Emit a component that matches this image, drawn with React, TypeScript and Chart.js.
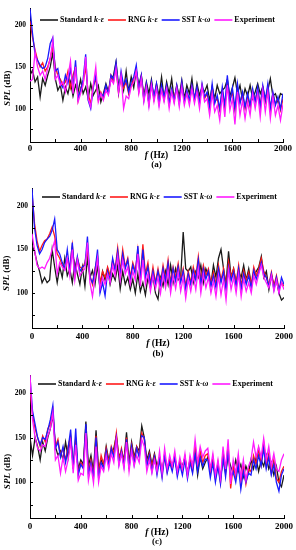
import React, { useEffect, useRef } from 'react';
import { Chart, registerables } from 'chart.js';

Chart.register(...registerables);

// Frequency grid (Hz), one sample every 20 Hz from 0 to 2000
const FREQS: number[] = Array.from({ length: 101 }, (_, i) => i * 20);

const SERIES_LABELS: { t: string; i: boolean }[][] = [
  [{ t: 'Standard ', i: false }, { t: 'k-ε', i: true }],
  [{ t: 'RNG ', i: false }, { t: 'k-ε', i: true }],
  [{ t: 'SST ', i: false }, { t: 'k-ω', i: true }],
  [{ t: 'Experiment', i: false }],
];
const COLORS = ['#1a1a1a', '#ff1a1a', '#1a1aff', '#ff1aff'];

const Y_TICKS = [75, 100, 125, 150, 175, 200];
const Y_LABELED = [100, 150, 200];
const X_TICKS = [0, 200, 400, 600, 800, 1000, 1200, 1400, 1600, 1800, 2000];
const X_LABELED = [0, 400, 800, 1200, 1600, 2000];
const CAPTIONS = ['(a)', '(b)', '(c)'];

// ---------- Panel (a) ----------
const A_STD = [
  140, 146, 132, 138, 114, 136, 128, 140, 150, 167,
  136, 122, 128, 110, 126, 118, 132, 115, 128, 120,
  135, 118, 126, 112, 130, 116, 122, 128, 108, 118,
  130, 120, 135, 140, 156, 128, 138, 122, 145, 120,
  138, 125, 146, 128, 140, 115, 132, 118, 135, 112,
  130, 115, 138, 112, 132, 118, 136, 110, 128, 115,
  134, 112, 128, 118, 136, 110, 130, 116, 125, 120,
  128, 110, 126, 112, 128, 118, 122, 125, 135, 115,
  125, 137, 118, 128, 110, 124, 115, 128, 112, 120,
  130, 118, 126, 112, 122, 136, 115, 118, 108, 118,
  116,
];
const A_RNG = [
  205, 185, 170, 158, 150, 155, 145, 150, 160, 175,
  150, 140, 135, 128, 132, 145, 125, 140, 150, 110,
  125, 130, 150, 118, 105, 128, 135, 110, 120, 112,
  125, 120, 140, 132, 150, 118, 140, 125, 132, 118,
  128, 135, 146, 120, 138, 112, 128, 106, 130, 112,
  128, 108, 125, 112, 126, 108, 122, 112, 126, 108,
  130, 110, 120, 108, 126, 112, 124, 108, 128, 112,
  118, 100, 125, 108, 112, 98, 122, 102, 132, 110,
  120, 98, 125, 108, 118, 100, 115, 102, 120, 110,
  122, 104, 125, 108, 126, 100, 118, 106, 112, 98,
  112,
];
const A_SST = [
  220, 190, 165, 158, 152, 148, 150, 160, 178, 185,
  145, 148, 130, 125, 140, 130, 148, 125, 158, 112,
  122, 135, 165, 110, 100, 125, 140, 112, 118, 115,
  128, 118, 140, 135, 155, 120, 145, 128, 135, 120,
  132, 138, 152, 122, 140, 110, 130, 105, 132, 114,
  130, 106, 128, 114, 128, 106, 124, 110, 128, 106,
  132, 108, 122, 110, 128, 112, 126, 106, 130, 114,
  120, 102, 130, 106, 116, 100, 126, 104, 140, 108,
  125, 100, 130, 106, 120, 102, 118, 104, 124, 108,
  126, 102, 128, 110, 130, 100, 120, 104, 114, 100,
  118,
];
const A_EXP = [
  133, 135, 168, 150, 140, 145, 135, 148, 160, 182,
  135, 140, 128, 132, 120, 138, 157, 118, 150, 108,
  118, 128, 162, 112, 102, 128, 150, 108, 118, 110,
  122, 116, 135, 130, 148, 120, 140, 100, 115, 112,
  126, 132, 145, 118, 136, 108, 126, 102, 128, 108,
  124, 102, 122, 108, 124, 100, 120, 106, 124, 102,
  126, 104, 118, 104, 124, 106, 120, 100, 126, 108,
  112, 92, 118, 96, 104, 86, 116, 90, 128, 98,
  112, 81, 120, 92, 110, 88, 108, 92, 118, 100,
  118, 90, 122, 96, 120, 88, 114, 92, 104, 86,
  105,
];

// ---------- Panel (b) ----------
const B_STD = [
  155, 148, 135, 125, 112, 118, 112, 115, 150, 130,
  112, 130, 118, 140, 120, 128, 112, 135, 122, 110,
  130, 108, 140, 118, 126, 110, 132, 105, 125, 115,
  128, 110, 122, 115, 132, 105, 125, 110, 118, 104,
  116, 100, 122, 102, 112, 98, 118, 106, 120, 100,
  93, 118, 108, 125, 110, 132, 112, 128, 115, 118,
  170, 128, 125, 130, 112, 125, 118, 132, 112, 128,
  120, 110, 132, 118, 140, 150, 128, 110, 148, 118,
  128, 112, 125, 118, 132, 115, 128, 110, 120, 125,
  130, 142, 118, 125, 104, 120, 110, 115, 100, 92,
  95,
];
const B_RNG = [
  215, 180, 160, 148, 155, 160, 162, 168, 176, 165,
  145, 140, 132, 128, 138, 130, 155, 125, 140, 130,
  128, 135, 150, 120, 110, 128, 142, 112, 125, 118,
  130, 120, 138, 128, 152, 125, 150, 130, 140, 118,
  135, 125, 150, 118, 156, 122, 135, 110, 130, 112,
  128, 112, 132, 116, 138, 112, 130, 118, 134, 115,
  128, 108, 125, 112, 130, 118, 142, 115, 132, 120,
  128, 112, 124, 110, 132, 115, 128, 108, 136, 118,
  128, 112, 132, 108, 126, 114, 124, 110, 130, 120,
  128, 140, 125, 118, 110, 124, 108, 120, 105, 112,
  108,
];
const B_SST = [
  220, 175, 155, 145, 150, 158, 162, 165, 172, 185,
  150, 145, 135, 128, 150, 125, 158, 120, 142, 125,
  130, 132, 165, 118, 112, 125, 150, 100, 112, 97,
  125, 115, 140, 125, 148, 120, 145, 128, 138, 115,
  132, 122, 154, 115, 150, 118, 130, 108, 125, 110,
  125, 110, 128, 114, 134, 108, 128, 114, 130, 112,
  125, 105, 122, 110, 126, 115, 138, 110, 128, 116,
  125, 108, 120, 106, 128, 112, 124, 104, 130, 114,
  124, 108, 128, 104, 122, 110, 120, 106, 126, 116,
  124, 135, 122, 118, 108, 122, 104, 118, 102, 118,
  110,
];
const B_EXP = [
  168, 150, 132, 128, 130, 128, 135, 140, 150, 160,
  122, 135, 130, 126, 140, 120, 150, 115, 138, 120,
  125, 128, 158, 112, 96, 118, 140, 105, 118, 110,
  122, 112, 132, 120, 142, 115, 138, 122, 130, 110,
  125, 115, 145, 108, 138, 110, 122, 102, 120, 105,
  118, 100, 122, 106, 126, 100, 120, 105, 124, 102,
  118, 94, 116, 102, 120, 104, 128, 100, 122, 106,
  118, 100, 114, 96, 120, 98, 116, 92, 126, 104,
  118, 100, 122, 96, 116, 102, 112, 100, 120, 110,
  122, 132, 118, 112, 106, 120, 102, 115, 100, 112,
  104,
];

// ---------- Panel (c) ----------
const C_STD = [
  150, 130, 150, 140, 125, 145, 135, 150, 160, 175,
  140, 130, 135, 125, 145, 128, 150, 120, 140, 115,
  125, 120, 168, 118, 130, 112, 158, 115, 125, 118,
  140, 125, 132, 138, 152, 128, 135, 125, 156, 122,
  145, 128, 140, 135, 163, 150, 125, 135, 120, 132,
  118, 128, 112, 130, 115, 125, 118, 128, 112, 122,
  118, 128, 110, 125, 118, 135, 108, 128, 115, 122,
  128, 115, 124, 110, 118, 105, 125, 112, 128, 118,
  110, 125, 112, 120, 106, 118, 110, 125, 115, 128,
  112, 125, 118, 130, 115, 122, 108, 118, 100, 95,
  108,
];
const C_RNG = [
  205, 175, 160, 150, 140, 152, 145, 160, 165, 180,
  140, 148, 130, 138, 125, 140, 152, 118, 150, 110,
  122, 118, 160, 112, 125, 108, 152, 110, 130, 120,
  138, 122, 140, 132, 155, 125, 138, 122, 150, 118,
  142, 125, 140, 130, 155, 148, 120, 132, 118, 130,
  112, 128, 108, 132, 112, 125, 115, 130, 110, 124,
  114, 128, 108, 126, 112, 140, 118, 135, 122, 130,
  132, 110, 128, 104, 122, 100, 135, 110, 142, 93,
  118, 106, 126, 100, 118, 98, 115, 112, 130, 120,
  138, 120, 145, 118, 132, 110, 125, 104, 100, 112,
  118,
];
const C_SST = [
  218, 180, 165, 150, 142, 150, 148, 158, 170, 186,
  138, 145, 128, 140, 122, 138, 159, 115, 160, 108,
  120, 115, 165, 108, 122, 105, 150, 105, 122, 115,
  135, 118, 138, 128, 150, 120, 135, 118, 148, 115,
  140, 120, 138, 128, 152, 150, 118, 130, 112, 128,
  108, 125, 105, 130, 110, 122, 112, 128, 106, 120,
  108, 125, 104, 122, 110, 132, 112, 128, 118, 126,
  125, 105, 122, 100, 118, 98, 128, 106, 135, 105,
  112, 100, 120, 92, 112, 100, 110, 108, 125, 115,
  130, 118, 138, 115, 128, 108, 120, 100, 90, 108,
  115,
];
const C_EXP = [
  220, 170, 150, 138, 135, 142, 140, 152, 160, 178,
  125, 130, 110, 128, 112, 125, 145, 110, 142, 102,
  110, 108, 155, 102, 118, 99, 140, 100, 118, 112,
  130, 115, 132, 122, 148, 118, 132, 115, 145, 112,
  135, 118, 130, 122, 148, 140, 112, 125, 110, 125,
  112, 135, 110, 138, 115, 130, 118, 135, 112, 128,
  115, 132, 108, 130, 118, 148, 122, 140, 128, 135,
  138, 115, 132, 108, 125, 104, 140, 115, 148, 98,
  125, 110, 132, 104, 125, 102, 118, 125, 145, 128,
  140, 128, 149, 125, 140, 118, 132, 115, 112, 125,
  132,
];

type Part = { t: string; i: boolean };

interface PanelCfg {
  top: number;
  height: number;
  padTop: number;
  padRight: number;
  yWidth: number;
  xHeight: number;
  labelPad: number;
  xTitleOff: number;
  capOff: number;
  yTitleX: number;
  yTitleOff: number;
  legendOff: number;
  legendStart: number;
  caption: string;
  series: number[][];
}

const PANELS: PanelCfg[] = [
  { top: 0, height: 180, padTop: 1, padRight: 13, yWidth: 30, xHeight: 38, labelPad: 1, xTitleOff: 13.5, capOff: 23, yTitleX: 8, yTitleOff: 13, legendOff: 11.5, legendStart: 10, caption: CAPTIONS[0], series: [A_STD, A_RNG, A_SST, A_EXP] },
  { top: 180, height: 180, padTop: 8, padRight: 12, yWidth: 32, xHeight: 32, labelPad: 3, xTitleOff: 16, capOff: 26, yTitleX: 7, yTitleOff: 15, legendOff: 8.5, legendStart: 10, caption: CAPTIONS[1], series: [B_STD, B_RNG, B_SST, B_EXP] },
  { top: 360, height: 190, padTop: 15, padRight: 12, yWidth: 30, xHeight: 32, labelPad: 3, xTitleOff: 15, capOff: 24, yTitleX: 8, yTitleOff: 25, legendOff: 9, legendStart: 8, caption: CAPTIONS[2], series: [C_STD, C_RNG, C_SST, C_EXP] },
];

const FAMILY = '"Liberation Serif", "DejaVu Serif", serif';

function font(size: number, italic: boolean) {
  return `${italic ? 'italic ' : ''}bold ${size}px ${FAMILY}`;
}

function richWidth(ctx: CanvasRenderingContext2D, parts: Part[], size: number) {
  let w = 0;
  for (const p of parts) {
    ctx.font = font(size, p.i);
    w += ctx.measureText(p.t).width;
  }
  return w;
}

function drawRich(ctx: CanvasRenderingContext2D, parts: Part[], x: number, y: number, size: number, align: 'left' | 'center') {
  const w = richWidth(ctx, parts, size);
  let cx = align === 'center' ? x - w / 2 : x;
  ctx.textAlign = 'left';
  ctx.textBaseline = 'middle';
  for (const p of parts) {
    ctx.font = font(size, p.i);
    ctx.fillText(p.t, cx, y);
    cx += ctx.measureText(p.t).width;
  }
  return w;
}

function makeDecor(p: PanelCfg) {
  return {
    id: 'decor',
    afterDraw(chart: any) {
      const ctx: CanvasRenderingContext2D = chart.ctx;
      const { left, right, top, bottom } = chart.chartArea;
      const xs = chart.scales.x;
      const ys = chart.scales.y;
      ctx.save();
      ctx.strokeStyle = '#000';
      ctx.lineWidth = 1;
      ctx.beginPath();
      for (const v of X_TICKS) {
        const px = Math.round(xs.getPixelForValue(v)) + 0.5;
        ctx.moveTo(px, bottom);
        ctx.lineTo(px, bottom - 3);
      }
      for (const v of Y_TICKS) {
        const py = Math.round(ys.getPixelForValue(v)) + 0.5;
        ctx.moveTo(left, py);
        ctx.lineTo(left + 3, py);
      }
      ctx.stroke();

      ctx.fillStyle = '#000';
      const cx = (left + right) / 2;
      drawRich(ctx, [{ t: 'f', i: true }, { t: ' (Hz)', i: false }], cx, bottom + p.xTitleOff, 9.5, 'center');
      drawRich(ctx, [{ t: p.caption, i: false }], cx, bottom + p.capOff, 9, 'center');

      ctx.save();
      ctx.translate(p.yTitleX, (top + bottom) / 2 + p.yTitleOff);
      ctx.rotate(-Math.PI / 2);
      drawRich(ctx, [{ t: 'SPL', i: true }, { t: ' (dB)', i: false }], 0, 0, 9, 'center');
      ctx.restore();

      // legend inside the plot area
      let lx = left + p.legendStart;
      const ly = top + p.legendOff;
      SERIES_LABELS.forEach((parts, k) => {
        ctx.strokeStyle = COLORS[k];
        ctx.lineWidth = 1.6;
        ctx.beginPath();
        ctx.moveTo(lx, ly);
        ctx.lineTo(lx + 18, ly);
        ctx.stroke();
        lx += 20;
        ctx.fillStyle = '#000';
        const w = drawRich(ctx, parts, lx, ly, 8, 'left');
        lx += w + 4;
      });
      ctx.restore();
    },
  };
}

function PanelChart({ cfg }: { cfg: PanelCfg }) {
  const ref = useRef<HTMLCanvasElement | null>(null);
  useEffect(() => {
    if (!ref.current) return;
    const datasets = cfg.series.map((vals, k) => ({
      label: SERIES_LABELS[k].map((s) => s.t).join(''),
      data: FREQS.map((f, i) => ({ x: f, y: vals[i] })),
      borderColor: COLORS[k],
      backgroundColor: COLORS[k],
      borderWidth: 1.3,
      pointRadius: 0,
      tension: 0,
      order: 4 - k,
    }));
    const chart = new Chart(ref.current, {
      type: 'line',
      data: { datasets },
      options: {
        animation: false,
        responsive: false,
        devicePixelRatio: 1,
        layout: { padding: { top: cfg.padTop, right: cfg.padRight, left: 0, bottom: 0 } },
        plugins: { legend: { display: false }, tooltip: { enabled: false } },
        scales: {
          x: {
            type: 'linear',
            min: 0,
            max: 2000,
            afterBuildTicks: (s: any) => { s.ticks = X_TICKS.map((v) => ({ value: v })); },
            afterFit: (s: any) => { s.height = cfg.xHeight; },
            ticks: {
              autoSkip: false,
              maxRotation: 0,
              padding: cfg.labelPad,
              color: '#000',
              font: { family: FAMILY, size: 9, weight: 'bold' },
              callback: (v: any) => (X_LABELED.includes(Number(v)) ? String(v) : ''),
            },
            grid: { display: false, drawTicks: false },
            border: { display: true, color: '#000', width: 1 },
          },
          y: {
            type: 'linear',
            min: 60,
            max: 220,
            afterBuildTicks: (s: any) => { s.ticks = Y_TICKS.map((v) => ({ value: v })); },
            afterFit: (s: any) => { s.width = cfg.yWidth; },
            ticks: {
              autoSkip: false,
              padding: 4,
              color: '#000',
              font: { family: FAMILY, size: 7.5, weight: 'bold' },
              callback: (v: any) => (Y_LABELED.includes(Number(v)) ? String(v) : ''),
            },
            grid: { display: false, drawTicks: false },
            border: { display: true, color: '#000', width: 1 },
          },
        },
      } as any,
      plugins: [makeDecor(cfg)],
    });
    return () => chart.destroy();
  }, [cfg]);
  return (
    <div style={{ position: 'absolute', left: 0, top: cfg.top, width: 296, height: cfg.height }}>
      <canvas ref={ref} width={296} height={cfg.height} style={{ display: 'block' }} />
    </div>
  );
}

export default function App() {
  return (
    <div style={{ position: 'absolute', left: 0, top: 0, width: 296, height: 550, background: '#fff', overflow: 'hidden' }}>
      {PANELS.map((p, i) => (
        <PanelChart key={i} cfg={p} />
      ))}
    </div>
  );
}
